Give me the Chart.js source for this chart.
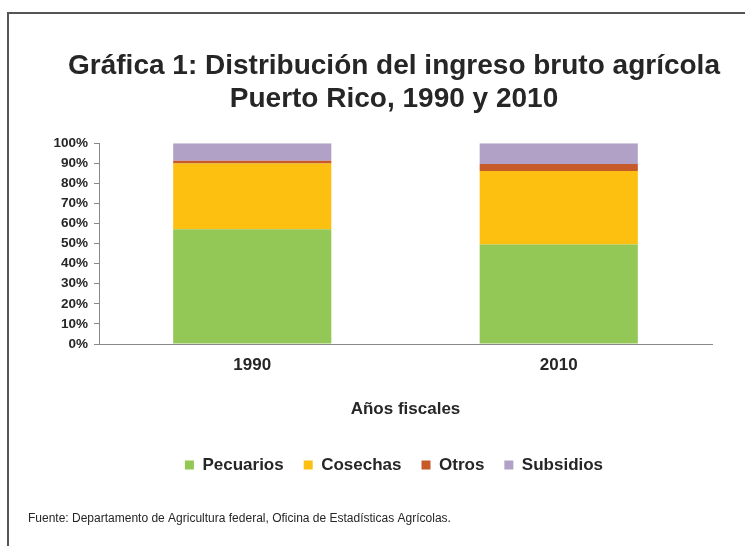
<!DOCTYPE html>
<html>
<head>
<meta charset="utf-8">
<script src="https://cdn.jsdelivr.net/npm/chart.js@4"></script>
<style>
  html, body { margin: 0; padding: 0; background: #fff; }
  #wrap { position: relative; width: 745px; height: 546px; overflow: hidden; }
  #frame { position: absolute; left: 7px; top: 12px; width: 800px; height: 600px;
           border-top: 2px solid #555; border-left: 2px solid #555; }
  canvas { position: absolute; left: 0; top: 0; }
</style>
</head>
<body>
<div id="wrap">
  <div id="frame"></div>
  <canvas id="ingresoChart" width="745" height="546"></canvas>
</div>
<script>
const years = ['1990', '2010'];
const pecuarios = [57.2, 49.6];
const cosechas = [32.7, 36.5];
const otros = [1.3, 3.6];
const subsidios = [8.8, 10.3];
const fuente = 'Fuente: Departamento de Agricultura federal, Oficina de Estadísticas Agrícolas.';

const textColor = '#262626';
const font = 'Liberation Sans, Arial, sans-serif';

// source note sits in the bottom-left corner, outside the centred blocks
const sourceNote = {
    id: 'sourceNote',
    afterDraw(chart) {
        const c = chart.ctx;
        c.save();
        c.font = '12px ' + font;
        c.fillStyle = textColor;
        c.textAlign = 'left';
        c.textBaseline = 'middle';
        c.fillText(fuente, 28, 519);
        c.restore();
    }
};

const ctx = document.getElementById('ingresoChart').getContext('2d');

new Chart(ctx, {
    type: 'bar',
    data: {
        labels: years,
        datasets: [
            { label: 'Pecuarios', data: pecuarios, backgroundColor: '#93C856' },
            { label: 'Cosechas', data: cosechas, backgroundColor: '#FDC010' },
            { label: 'Otros', data: otros, backgroundColor: '#C65A28' },
            { label: 'Subsidios', data: subsidios, backgroundColor: '#B2A1C7' }
        ]
    },
    plugins: [sourceNote],
    options: {
        responsive: false,
        animation: false,
        layout: {
            padding: { left: 43, right: 0, top: 0, bottom: 62.5 }
        },
        datasets: {
            bar: {
                categoryPercentage: 1,
                barPercentage: 0.516,
                borderWidth: 0
            }
        },
        scales: {
            x: {
                stacked: true,
                grid: { display: true, drawOnChartArea: false, drawTicks: false, color: '#888' },
                border: { display: true, color: '#888', width: 1 },
                ticks: {
                    padding: 11,
                    color: textColor,
                    font: { family: font, size: 17, weight: 'bold' }
                },
                title: {
                    display: true,
                    text: 'Años fiscales',
                    color: textColor,
                    font: { family: font, size: 17, weight: 'bold' },
                    padding: { top: 12.4, bottom: 17.3 }
                }
            },
            y: {
                stacked: true,
                min: 0,
                max: 100,
                afterFit: scale => { scale.width = 56; },
                grid: { display: true, drawOnChartArea: false, drawTicks: true, tickLength: 5, color: '#888' },
                border: { display: true, color: '#888', width: 1 },
                ticks: {
                    stepSize: 10,
                    padding: 6,
                    color: textColor,
                    font: { family: font, size: 13.5, weight: 'bold' },
                    callback: value => value + '%'
                }
            },
            spacer: {
                position: 'right',
                display: true,
                grid: { display: false },
                border: { display: false },
                ticks: { display: false },
                afterFit: scale => { scale.width = 33; }
            }
        },
        plugins: {
            title: {
                display: true,
                text: ['Gráfica 1: Distribución del ingreso bruto agrícola', 'Puerto Rico, 1990 y 2010'],
                color: textColor,
                font: { family: font, size: 28, weight: 'bold', lineHeight: 1.2 },
                padding: { top: 49, bottom: 27 }
            },
            legend: {
                position: 'bottom',
                labels: {
                    boxWidth: 9,
                    boxHeight: 9,
                    padding: 20,
                    color: textColor,
                    font: { family: font, size: 17, weight: 'bold' }
                }
            },
            tooltip: { enabled: false }
        }
    }
});
</script>
</body>
</html>
